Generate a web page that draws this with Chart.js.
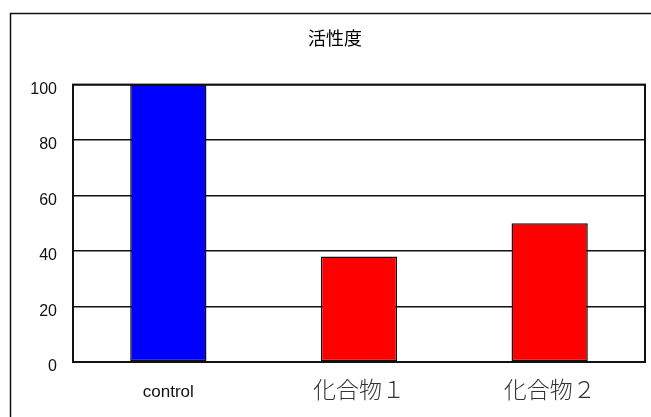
<!DOCTYPE html>
<html>
<head>
<meta charset="utf-8">
<script src="https://cdn.jsdelivr.net/npm/chart.js@4/dist/chart.umd.min.js"></script>
<style>
    html, body { margin: 0; padding: 0; background: white; }
    #vis { width: 651px; height: 417px; }
</style>
</head>
<body>
<div id="vis"><canvas id="visplot" width="651" height="417"></canvas></div>
<script>
// chart values
let categories = ['control', '化合物１', '化合物２']
let activity = [100, 38, 50]
let barColours = ['#0000ff', '#ff0000', '#ff0000']
let yTicks = [0, 20, 40, 60, 80, 100]

let cjk = '"Noto Sans CJK JP", "Noto Sans", sans-serif'
let latin = '"Liberation Sans", Arial, sans-serif'

// outer frame + plot frame
let framePlugin = {
    id: 'frames',
    beforeDraw(chart) {
        let ctx = chart.ctx
        ctx.save()
        ctx.fillStyle = 'white'
        ctx.fillRect(0, 0, chart.width, chart.height)
        ctx.strokeStyle = '#111'
        ctx.lineWidth = 1.5
        ctx.strokeRect(10.5, 13.5, 1000, 1000)
        ctx.restore()
    },
    afterDraw(chart) {
        let a = chart.chartArea
        let ctx = chart.ctx
        ctx.save()
        ctx.strokeStyle = '#111'
        ctx.lineWidth = 2
        ctx.strokeRect(a.left, a.top, a.right - a.left, a.bottom - a.top)
        ctx.restore()
    }
}

new Chart('visplot', {
    type: 'bar',
    data: {
        labels: categories,
        datasets: [{
            data: activity,
            backgroundColor: barColours,
            borderColor: '#111',
            borderWidth: 1.5,
            borderSkipped: false,
            barPercentage: 0.4,
            categoryPercentage: 1
        }]
    },
    options: {
        responsive: false,
        animation: false,
        layout: { padding: { left: 25, right: 6, top: 0, bottom: 0 } },
        plugins: {
            legend: { display: false },
            tooltip: { enabled: false },
            title: {
                display: true,
                text: '活性度',
                color: '#000',
                font: { family: cjk, size: 18, weight: 'normal', lineHeight: 1.2 },
                padding: { top: 27, bottom: 36 }
            }
        },
        scales: {
            x: {
                grid: { display: false, drawTicks: false },
                border: { display: false },
                ticks: {
                    padding: 15,
                    color: ctx => ctx.index == 0 ? '#111' : '#333',
                    font: ctx => ctx.index == 0
                        ? { family: latin, size: 17, lineHeight: 1.76 }
                        : { family: cjk, size: 23, weight: 300, lineHeight: 1.05 }
                },
                afterFit: scale => { scale.height = 55 }
            },
            y: {
                min: 0,
                max: 100,
                afterBuildTicks: scale => { scale.ticks = yTicks.map(v => ({ value: v })) },
                grid: { color: '#111', lineWidth: 1.5, drawTicks: false },
                border: { display: true, color: '#111', width: 2 },
                ticks: {
                    padding: 16,
                    labelOffset: 5,
                    color: '#111',
                    font: { family: latin, size: 16 }
                },
                afterFit: scale => { scale.width = 48 }
            }
        }
    },
    plugins: [framePlugin]
})
</script>
</body>
</html>
